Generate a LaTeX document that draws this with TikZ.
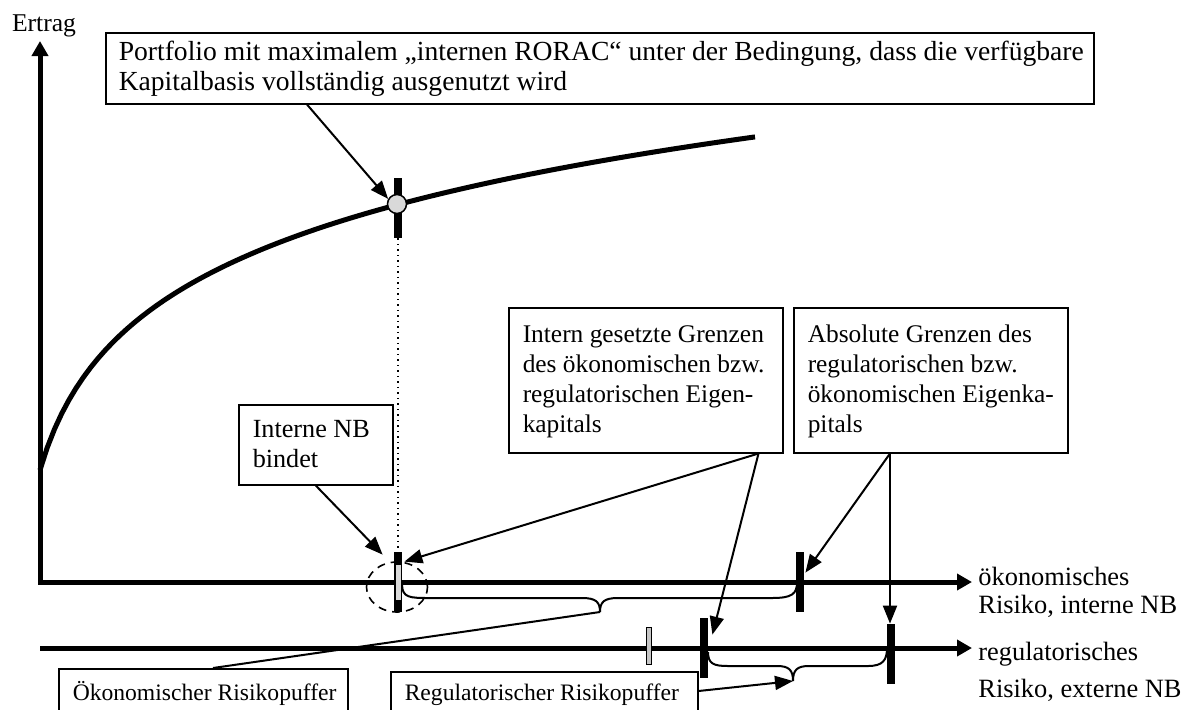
\documentclass[tikz,border=0pt]{standalone}
\usepackage{fontspec}
\setmainfont{Liberation Serif}
\usetikzlibrary{arrows.meta,calc}

\newcommand{\zeilenhoehe}[1]{\rule{0pt}{#1}}

\tikzset{
  achse/.style={line width=2.5pt,line join=miter},
  kurve/.style={line width=2.5pt},
  kasten/.style={draw,line width=0.75pt,rectangle,anchor=north west,inner xsep=7pt,inner ysep=4pt},
  balken/.style={fill=black,inner sep=0pt,minimum width=4pt,minimum height=30pt},
  grbalken/.style={fill=gray!45,draw=black,line width=0.5pt,inner sep=0pt,minimum width=2.5pt,minimum height=18.5pt},
  pfeil/.style={line width=1pt,-{Triangle[length=9pt,width=7pt]}},
  klammer/.style={line width=1pt},
}

\begin{document}
\begin{tikzpicture}[x=0.5pt,y=-0.5pt,every node/.style={font=\fontsize{12.7pt}{15pt}\selectfont}]
\useasboundingbox (0,0) rectangle (1195,709);

% Achsen
\coordinate (ursprung) at (40,582);
\coordinate (ytip) at (40,41);
\coordinate (xtip) at (972,582);
\coordinate (x2start) at (40,648);
\coordinate (x2tip) at (972,648);
\draw[achse,{Triangle[length=7.5pt,width=8pt]}-{Triangle[length=7.5pt,width=8pt]}] (ytip) -- (ursprung) -- (xtip);
\draw[achse,-{Triangle[length=7.5pt,width=8pt]}] (x2start) -- (x2tip);
\node[anchor=base,font=\fontsize{12.8pt}{15pt}\selectfont] (ertrag) at (44,31) {Ertrag};
\node[anchor=west,align=left,inner sep=2pt,font=\fontsize{13.2pt}{14pt}\selectfont] (oeklabel) at (974,592) {ökonomisches\\Risiko, interne NB};
\node[anchor=west,align=left,inner sep=2pt,font=\fontsize{13.2pt}{14pt}\selectfont] (reglabel) at (974,672) {regulatorisches\\[4.5pt]Risiko, externe NB};

% Ertragskurve
\draw[kurve] plot[domain=40:755,samples=100] (\x,{470-103.7*ln(1+(\x-40)/30)});

% Balken
\node[balken] (kurvbalken) at (398,208) {};
\node[circle,draw=black,fill=gray!30,line width=0.75pt,inner sep=0pt,minimum size=9.5pt] (kurvpunkt) at (397,204) {};
\node[balken] (iz) at (398,582) {};
\fill[gray!30] ($(iz.center)+(-2.5,-17)$) rectangle ($(iz.center)+(2.5,18)$);
\node[balken] (absoek) at (800,582) {};
\node[grbalken] (regist) at (649,645.5) {};
\node[balken] (interg) at (704,648) {};
\node[balken] (absreg) at (891,654) {};
\draw[dotted,line width=0.75pt] (kurvbalken.south) -- (iz.north);
\draw[dashed,line width=0.8pt,dash pattern=on 4pt off 3pt] (397,587) ellipse (15.25pt and 12.5pt);

% Klammern
\coordinate (oektip) at (600,612);
\coordinate (regtip) at (793,681);
\draw[klammer] (402,584) .. controls (402,598) and (410,598) .. (430,598) -- (582,598)
  .. controls (596,598) and (600,602) .. (oektip) .. controls (600,602) and (604,598) .. (618,598)
  -- (772,598) .. controls (792,598) and (797,594) .. (797,582);
\draw[klammer] (708,652) .. controls (708,664) and (714,666) .. (728,666) -- (777,666)
  .. controls (789,666) and (793,670) .. (regtip) .. controls (793,670) and (797,666) .. (809,666)
  -- (868,666) .. controls (883,666) and (887,660) .. (887,648);

% Kaesten
\node[kasten,inner xsep=6.5pt,font=\fontsize{13.8pt}{15pt}\selectfont] (portfolio) at (105,32)
  {\parbox[t][27.5pt][t]{481pt}{\zeilenhoehe{10pt}\mbox{Portfolio mit maximalem „internen RORAC“ unter der Bedingung, dass die verfügbare}\\Kapitalbasis vollständig ausgenutzt wird}};
\node[kasten,font=\fontsize{13.1pt}{15pt}\selectfont] (bindet) at (238,404)
  {\parbox[t][32pt][t]{63pt}{\zeilenhoehe{12.5pt}Interne NB\\bindet}};
\node[kasten] (interngrenzen) at (508,307)
  {\parbox[t][64.5pt][t]{123pt}{\zeilenhoehe{13.5pt}\mbox{Intern gesetzte Grenzen}\\\mbox{des ökonomischen bzw.}\\\mbox{regulatorischen Eigen-}\\kapitals}};
\node[kasten] (absolutgrenzen) at (793,307)
  {\parbox[t][64.5pt][t]{123pt}{\zeilenhoehe{13.5pt}\mbox{Absolute Grenzen des}\\\mbox{regulatorischen bzw.}\\\mbox{ökonomischen Eigenka-}\\pitals}};
\node[kasten,font=\fontsize{11.8pt}{14pt}\selectfont] (oekpuffer) at (58,668)
  {\parbox[t][18pt][t]{130.5pt}{\zeilenhoehe{12pt}\mbox{Ökonomischer Risikopuffer}}};
\node[kasten,font=\fontsize{11.8pt}{14pt}\selectfont] (regpuffer) at (390,671)
  {\parbox[t][18pt][t]{139.5pt}{\zeilenhoehe{10.5pt}\mbox{Regulatorischer Risikopuffer}}};

% Verbindungen
\draw[pfeil] ($(portfolio.south west)+(202,0)$) -- (kurvpunkt.150);
\draw[pfeil] (bindet.south) -- ($(iz.north west)+(-11,3)$);
\coordinate (ig) at ($(interngrenzen.south east)+(-25,0)$);
\draw[pfeil] (ig) -- ($(iz.north east)+(2,10)$);
\draw[pfeil] (ig) -- ($(interg.north east)+(4,17)$);
\coordinate (ag) at ($(absolutgrenzen.south west)+(97,0)$);
\draw[pfeil] (ag) -- ($(absoek.north east)+(1,21)$);
\draw[pfeil] (ag) -- (ag |- absreg.north);
\draw[line width=1pt] ($(oekpuffer.north west)+(155,0)$) -- (oektip);
\draw[pfeil] ($(regpuffer.north east)+(0,20)$) -- (regtip);
\end{tikzpicture}
\end{document}
